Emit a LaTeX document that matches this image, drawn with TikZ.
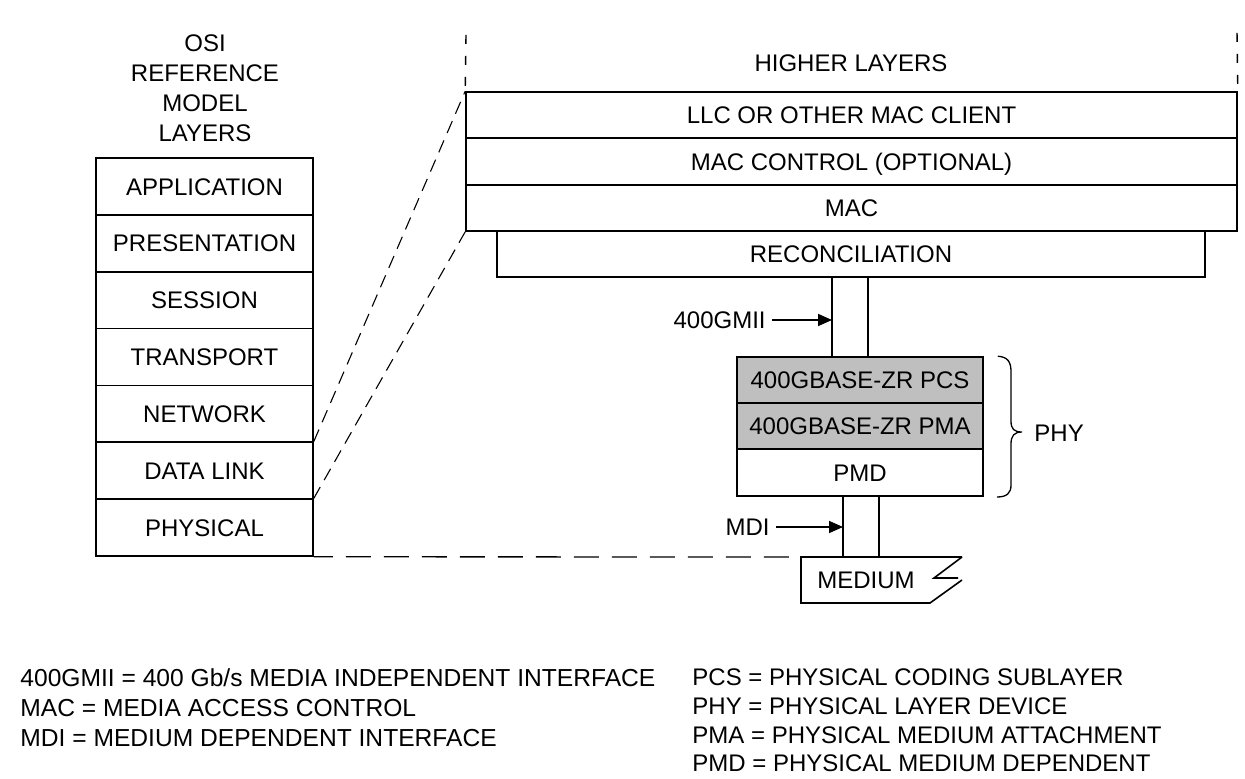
\documentclass[tikz,border=0pt]{standalone}
\usepackage{fontspec}
\setmainfont{Liberation Sans}
\usetikzlibrary{arrows.meta}
\begin{document}
\begin{tikzpicture}[x=0.5pt,y=-0.5pt,
  txt/.style={inner sep=0pt, text height=8.6pt, text depth=0pt, font=\fontsize{12}{15}\selectfont},
  leg/.style={txt, anchor=west, font=\fontsize{12.3}{15}\selectfont},
  lay/.style={txt, draw, line width=0.8pt},
  sz/.style 2 args={minimum width={#1*0.5pt}, minimum height={#2*0.5pt}},
  shade/.style={fill=black!25},
  ln/.style={line width=0.8pt},
  diag/.style={line width=0.55pt, dash pattern=on 6.5pt off 4pt},
  tick/.style={line width=0.7pt, dash pattern=on 4.5pt off 6pt},
  hdash/.style={line width=0.65pt, dash pattern=on 12.5pt off 6.5pt, dash phase=3pt},
  arr/.style={line width=0.8pt, -{Triangle[length=7pt,width=6pt]}}]
\useasboundingbox[fill=white] (0,0) rectangle (1245,779);

% OSI heading
\node[txt] (h1) at (205,43) {OSI};
\node[txt] (h2) at (205,73) {REFERENCE};
\node[txt] (h3) at (205,103) {MODEL};
\node[txt] (h4) at (205,133) {LAYERS};

% OSI stack
\node[lay, sz={217}{56.857}] (app)  at (204.5,186.43) {APPLICATION};
\node[lay, sz={217}{56.857}] (pres) at (204.5,243.29) {PRESENTATION};
\node[lay, sz={217}{56.857}] (sess) at (204.5,300.14) {SESSION};
\node[lay, sz={217}{56.857}] (tran) at (204.5,357.00) {TRANSPORT};
\node[lay, sz={217}{56.857}] (netw) at (204.5,413.86) {NETWORK};
\node[lay, sz={217}{56.857}] (dl)   at (204.5,470.71) {DATA LINK};
\node[lay, sz={217}{56.857}] (phys) at (204.5,527.57) {PHYSICAL};

% Upper stack
\node[txt] (hl) at (851,63) {HIGHER LAYERS};
\node[lay, sz={771}{46}] (llc)  at (851.5,115) {LLC OR OTHER MAC CLIENT};
\node[lay, sz={771}{47}] (macc) at (851.5,161.5) {MAC CONTROL (OPTIONAL)};
\node[lay, sz={771}{46}] (mac)  at (851.5,208) {MAC};
\node[lay, sz={708}{46}] (recon) at (851,254) {RECONCILIATION};

% PHY stack
\node[lay, shade, sz={246}{46}] (pcs) at (860,380) {400GBASE-ZR PCS};
\node[lay, shade, sz={246}{46}] (pma) at (860,426) {400GBASE-ZR PMA};
\node[lay, sz={246}{47}] (pmd) at (860,472.5) {PMD};

% 400GMII connection
\coordinate (ga) at (832,0);
\coordinate (gb) at (868,0);
\draw[ln] (ga |- recon.south) -- (ga |- pcs.north);
\draw[ln] (gb |- recon.south) -- (gb |- pcs.north);
\node[txt, anchor=east] (gmii) at (766,320) {400GMII};
\draw[arr] ([xshift=3pt]gmii.east) -- (ga |- gmii.east);

% Medium
\coordinate (m1) at (801,557);
\coordinate (m2) at (962,557);
\coordinate (m3) at (801,603);
\coordinate (m4) at (930,603);
\coordinate (m5) at (962,580);
\coordinate (m6) at (934,578);
\coordinate (m7) at (958,578);
\draw[ln] (m2) -- (m1) -- (m3) -- (m4) -- (m5);
\draw[ln] (m2) -- (m6) -- (m7);
\node[txt] (medium) at (866,580) {MEDIUM};

% MDI connection
\coordinate (ma) at (843,0);
\coordinate (mb) at (879,0);
\draw[ln] (ma |- pmd.south) -- (ma |- m1);
\draw[ln] (mb |- pmd.south) -- (mb |- m1);
\node[txt, anchor=east] (mdi) at (770,527) {MDI};
\draw[arr] ([xshift=3pt]mdi.east) -- (ma |- mdi.east);

% PHY brace
\node[txt, anchor=west] (phy) at (1034,433) {PHY};
\draw[line width=0.65pt] (pcs.north east) ++(14,0) coordinate (b0)
  (b0) .. controls (1008,357) and (1011,362) .. (1011,372) -- (1011,421)
  .. controls (1011,429) and (1014,432) .. (1022,432)
  .. controls (1014,432) and (1011,436) .. (1011,444) -- (1011,485)
  .. controls (1011,493) and (1007,497) .. (997,497);

% dashed mapping lines
\draw[diag] (dl.north east) -- (llc.north west);
\draw[diag] (phys.north east) -- (mac.south west);
\draw[hdash] (phys.south east) -- (m1);
\coordinate (t1) at (466,35);
\coordinate (t2) at (1237,33);
\draw[tick] (t1) -- (llc.north west);
\draw[tick] (t2) -- (llc.north east);

% Legend
\node[leg] (l1) at (20,678) {400GMII = 400 Gb/s MEDIA INDEPENDENT INTERFACE};
\node[leg] (l2) at (20,708) {MAC = MEDIA ACCESS CONTROL};
\node[leg] (l3) at (20,738) {MDI = MEDIUM DEPENDENT INTERFACE};
\node[txt, anchor=west] (r1) at (692,677) {PCS = PHYSICAL CODING SUBLAYER};
\node[txt, anchor=west] (r2) at (692,706) {PHY = PHYSICAL LAYER DEVICE};
\node[txt, anchor=west] (r3) at (692,735) {PMA = PHYSICAL MEDIUM ATTACHMENT};
\node[txt, anchor=west] (r4) at (692,763) {PMD = PHYSICAL MEDIUM DEPENDENT};
\end{tikzpicture}
\end{document}
